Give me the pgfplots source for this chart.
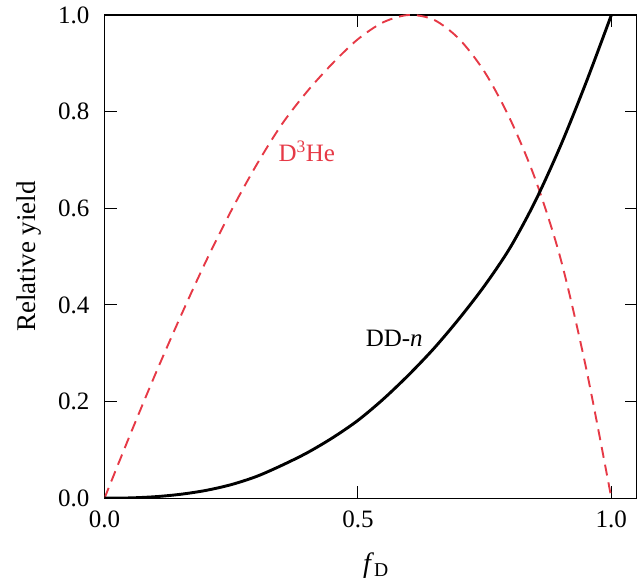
\documentclass[border=0pt]{standalone}
\usepackage{fontspec}
\setmainfont{Liberation Serif}
\usepackage{pgfplots}
\pgfplotsset{compat=1.18}

\definecolor{colRed}{RGB}{230,57,70}

\begin{document}
\begin{tikzpicture}
% fixed page box, axis box lower left at (0,0)
\useasboundingbox (-104.5pt,-87pt) rectangle (534.3pt,498pt);
\begin{axis}[
    at={(0,0)}, anchor=south west,
    scale only axis,
    width  = 532pt,
    height = 483pt,
    xmin = 0, xmax = 1.05,
    ymin = 0, ymax = 1.0,
    xtick = {0,0.5,1.0},
    ytick = {0,0.2,0.4,0.6,0.8,1.0},
    minor tick num = 0,
    tick pos   = both,
    tick align = inside,
    major tick length = 12pt,
    tick style = {line width=1pt, black},
    axis line style = {line width=1.2pt},
    /pgf/number format/.cd, fixed, fixed zerofill, precision=1, assume math mode=true,
    /pgfplots/.cd,
    ticklabel style = {font=\fontsize{25}{30}\selectfont},
    xticklabel style = {anchor=north, inner sep=0pt, yshift=-13pt},
    yticklabel style = {anchor=east, inner sep=0pt, xshift=-15pt},
    xlabel = {\textit{f}\textsubscript{D}},
    xlabel style = {font=\fontsize{28}{32}\selectfont,
                    at={(axis description cs:0.51,-0.153)}, anchor=base},
    ylabel = {Relative yield},
    ylabel style = {font=\fontsize{27}{32}\selectfont,
                    at={(axis description cs:-0.1306,0.5)}, anchor=base},
    clip = true,
]

% D3He yield
\addplot[colRed, line width=1.9pt, dash pattern=on 11pt off 7pt, smooth] coordinates {
    (0,0)(0.05,0.130)(0.10,0.256)(0.15,0.376)(0.20,0.490)(0.25,0.595)
    (0.30,0.690)(0.35,0.774)(0.40,0.842)(0.45,0.900)(0.50,0.950)(0.55,0.985)
    (0.60,1.000)(0.65,0.990)(0.70,0.950)(0.75,0.882)(0.80,0.785)(0.85,0.660)
    (0.90,0.495)(0.95,0.270)(1.00,0)};

% DD-n yield
\addplot[black, line width=2.9pt, smooth] coordinates {
    (0,0)(0.05,0.0005)(0.10,0.003)(0.15,0.008)(0.20,0.016)(0.25,0.028)
    (0.30,0.045)(0.35,0.068)(0.40,0.094)(0.45,0.125)(0.50,0.161)(0.55,0.205)
    (0.60,0.255)(0.65,0.310)(0.70,0.372)(0.75,0.440)(0.80,0.518)(0.85,0.615)
    (0.90,0.730)(0.95,0.860)(1.00,1.0)};

\node[anchor=base west, colRed, font=\fontsize{25}{30}\selectfont, inner sep=0pt]
    at (axis cs:0.343,0.696) {D\textsuperscript{3}He};
\node[anchor=base west, font=\fontsize{25}{30}\selectfont, inner sep=0pt]
    at (axis cs:0.515,0.313) {DD-\textit{n}};
\node[anchor=base west, font=\fontsize{14}{16}\selectfont, inner sep=0pt]
    at (axis description cs:-0.1645,-0.184) {E14403JRC};
\end{axis}
\end{tikzpicture}
\end{document}
